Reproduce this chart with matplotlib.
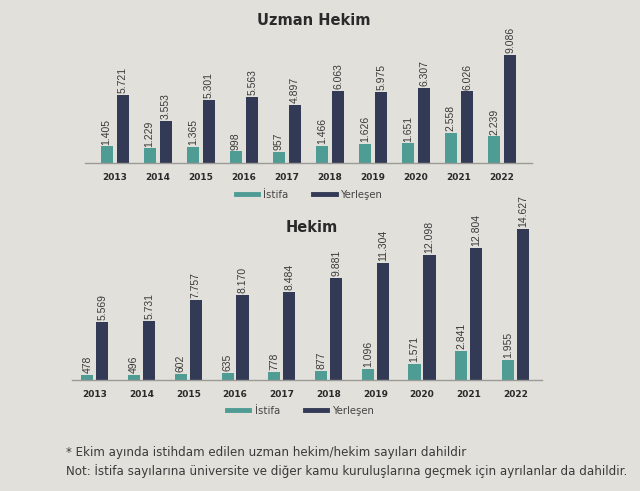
import numpy as np
import matplotlib.pyplot as plt
from matplotlib.lines import Line2D

years = ["2013", "2014", "2015", "2016", "2017", "2018", "2019", "2020", "2021", "2022"]
uzman_istifa = [1405, 1229, 1365, 998, 957, 1466, 1626, 1651, 2558, 2239]
uzman_yerlesen = [5721, 3553, 5301, 5563, 4897, 6063, 5975, 6307, 6026, 9086]
hekim_istifa = [478, 496, 602, 635, 778, 877, 1096, 1571, 2841, 1955]
hekim_yerlesen = [5569, 5731, 7757, 8170, 8484, 9881, 11304, 12098, 12804, 14627]

bg = "#e2e0da"
teal = "#4e9c94"
navy = "#333a56"
txt = "#3a3a3a"


def fmt(v):
    return f"{v:,}".replace(",", ".")


def draw(ax, istifa, yerlesen, off, w, ymax, xlim):
    x = np.arange(len(years))
    ax.bar(x - off, istifa, w, color=teal)
    ax.bar(x + off, yerlesen, w, color=navy)
    pad = ymax * 0.012
    for xi, v in zip(x - off, istifa):
        ax.text(xi, v + pad, fmt(v), rotation=90, ha="center", va="bottom",
                fontsize=7.5, color=txt, family="Liberation Sans")
    for xi, v in zip(x + off, yerlesen):
        ax.text(xi, v + pad, fmt(v), rotation=90, ha="center", va="bottom",
                fontsize=7.5, color=txt, family="Liberation Sans")
    ax.set_ylim(0, ymax)
    ax.set_xlim(*xlim)
    ax.set_facecolor(bg)
    for s in ["top", "right", "left"]:
        ax.spines[s].set_visible(False)
    ax.spines["bottom"].set_color("#9a9a96")
    ax.spines["bottom"].set_linewidth(1)
    ax.set_yticks([])
    ax.set_xticks(x)
    ax.set_xticklabels(years, fontsize=6.5, fontweight="bold", color="#2a2a2a")
    ax.tick_params(axis="x", length=0, pad=7)


fig = plt.figure(figsize=(6.4, 4.91), dpi=100, facecolor=bg)

ax1 = fig.add_axes([0.133, 0.668, 0.698, 0.2505])
draw(ax1, uzman_istifa, uzman_yerlesen, 0.19, 0.28, 10330, (-0.69, 9.69))

ax2 = fig.add_axes([0.1125, 0.226, 0.7345, 0.336])
draw(ax2, hekim_istifa, hekim_yerlesen, 0.16, 0.26, 15940, (-0.49, 9.57))

fig.text(0.49, 0.958, "Uzman Hekim", ha="center", va="center", fontsize=10.5,
         fontweight="bold", color="#2a2a2a")
fig.text(0.487, 0.536, "Hekim", ha="center", va="center", fontsize=10.5,
         fontweight="bold", color="#2a2a2a")

handles = [Line2D([], [], color=teal, lw=3.5), Line2D([], [], color=navy, lw=3.5)]
names = ["İstifa", "Yerleşen"]
for cx, cy in [(0.483, 0.603), (0.47, 0.163)]:
    fig.legend(handles, names, loc="center", bbox_to_anchor=(cx, cy), ncol=2,
               frameon=False, fontsize=7.3, handlelength=2.2, columnspacing=2.5,
               handletextpad=0.5, labelcolor="#444444")

fig.text(0.103, 0.079, "* Ekim ayında istihdam edilen uzman hekim/hekim sayıları dahildir",
         ha="left", va="center", fontsize=8.6, color="#3a3a3a")
fig.text(0.103, 0.04, "Not: İstifa sayılarına üniversite ve diğer kamu kuruluşlarına geçmek için ayrılanlar da dahildir.",
         ha="left", va="center", fontsize=8.6, color="#3a3a3a")

fig.savefig("out.png", dpi=100, facecolor=bg)
